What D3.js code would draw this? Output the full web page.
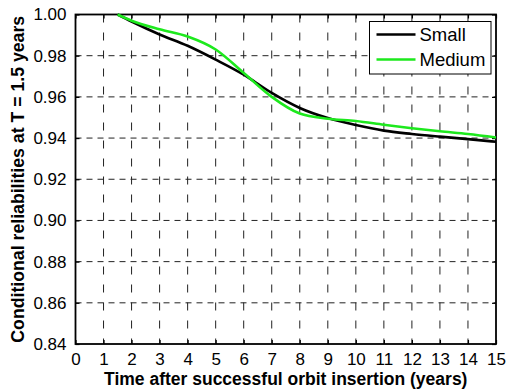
<!DOCTYPE html>
<html>
<head>
<meta charset="utf-8">
<script src="https://cdn.jsdelivr.net/npm/d3@7"></script>
<style>
	body { margin: 0; background: #fff; }
	svg { display: block; font-family: "Liberation Sans", Arial, sans-serif; }
</style>
</head>
<body>
<div id="chart"></div>
<script>
// values
const years = [1.5, 2, 3, 4, 5, 6, 7, 8, 9, 10, 11, 12, 13, 14, 15];
const small = [1.0, 0.9966, 0.9903, 0.9848, 0.9781, 0.9708, 0.9619, 0.9546, 0.9497, 0.9463, 0.9436, 0.9420, 0.9407, 0.9395, 0.9382];
const medium = [1.0, 0.9970, 0.9928, 0.9893, 0.9830, 0.9716, 0.9600, 0.9519, 0.9494, 0.9483, 0.9465, 0.9448, 0.9433, 0.9420, 0.9403];
const seriesNames = ["Small", "Medium"];
const seriesColors = ["#000000", "#1de91d"];
const xTickValues = [0, 1, 2, 3, 4, 5, 6, 7, 8, 9, 10, 11, 12, 13, 14, 15];
const yTickValues = [0.84, 0.86, 0.88, 0.90, 0.92, 0.94, 0.96, 0.98, 1.00];

const width = 512, height = 390;
const margin = {top: 14.5, right: 16, bottom: 46, left: 75.5};
const w = width - margin.left - margin.right;
const h = height - margin.top - margin.bottom;

const svg = d3.select("#chart")
	.append("svg")
	.attr("width", width)
	.attr("height", height);

const chart = svg.append("g")
	.attr("transform", "translate(" + margin.left + "," + margin.top + ")");

const x = d3.scaleLinear().domain([0, 15]).range([0, w]);
const y = d3.scaleLinear().domain([0.84, 1.0]).range([h, 0]);

// dashed grid
chart.selectAll("line.gx")
	.data(xTickValues.slice(1, -1))
	.enter().append("line")
	.attr("class", "gx")
	.attr("x1", d => x(d)).attr("x2", d => x(d))
	.attr("y1", 0).attr("y2", h)
	.style("stroke", "#222")
	.style("stroke-width", 1)
	.style("stroke-dasharray", "8,10");

chart.selectAll("line.gy")
	.data(yTickValues.slice(1, -1))
	.enter().append("line")
	.attr("class", "gy")
	.attr("x1", 0).attr("x2", w)
	.attr("y1", d => y(d)).attr("y2", d => y(d))
	.style("stroke", "#222")
	.style("stroke-width", 1)
	.style("stroke-dasharray", "6,5");

// axes, ticks pointing inwards like matlab
const fmt = d3.format(".2f");
chart.append("g")
	.attr("transform", "translate(0," + h + ")")
	.call(d3.axisBottom(x).tickValues(xTickValues).tickSize(-4).tickPadding(9).tickFormat(d3.format("d")));
chart.append("g")
	.call(d3.axisLeft(y).tickValues(yTickValues).tickSize(-4).tickPadding(9).tickFormat(fmt));
chart.append("g")
	.call(d3.axisTop(x).tickValues(xTickValues).tickSize(-4).tickFormat(""));
chart.append("g")
	.attr("transform", "translate(" + w + ",0)")
	.call(d3.axisRight(y).tickValues(yTickValues).tickSize(-4).tickFormat(""));

chart.selectAll(".domain").remove();
chart.selectAll(".tick line").style("stroke", "#000").style("stroke-width", 1.2);
chart.selectAll(".tick text")
	.style("font-size", "17px")
	.style("fill", "#000");

chart.append("rect")
	.attr("width", w)
	.attr("height", h)
	.style("fill", "none")
	.style("stroke", "#000")
	.style("stroke-width", 1.8);

// curves
const line = d3.line()
	.x(d => x(d[0]))
	.y(d => y(d[1]))
	.curve(d3.curveMonotoneX);

[small, medium].forEach((vals, i) => {
	chart.append("path")
		.datum(years.map((t, k) => [t, vals[k]]))
		.attr("d", line)
		.style("fill", "none")
		.style("stroke", seriesColors[i])
		.style("stroke-width", 2.6);
});

// labels
svg.append("text")
	.attr("x", margin.left + w / 2)
	.attr("y", 385)
	.attr("text-anchor", "middle")
	.style("font-size", "17.5px")
	.style("font-weight", "bold")
	.text("Time after successful orbit insertion (years)");

svg.append("text")
	.attr("transform", "translate(24," + (margin.top + h / 2) + ") rotate(-90)")
	.attr("text-anchor", "middle")
	.style("font-size", "17.7px")
	.style("font-weight", "bold")
	.text("Conditional reliabilities at T = 1.5 years");

// legend
const legend = svg.append("g").attr("transform", "translate(369.5,21.5)");
legend.append("rect")
	.attr("width", 121.5)
	.attr("height", 52.5)
	.style("fill", "#fff")
	.style("stroke", "#000")
	.style("stroke-width", 1);

seriesNames.forEach((name, i) => {
	const ly = 13 + i * 25;
	legend.append("line")
		.attr("x1", 7).attr("x2", 46)
		.attr("y1", ly).attr("y2", ly)
		.style("stroke", seriesColors[i])
		.style("stroke-width", 2.6);
	legend.append("text")
		.attr("x", 50)
		.attr("y", ly)
		.attr("dy", "0.35em")
		.style("font-size", "18.5px")
		.text(name);
});
</script>
</body>
</html>
